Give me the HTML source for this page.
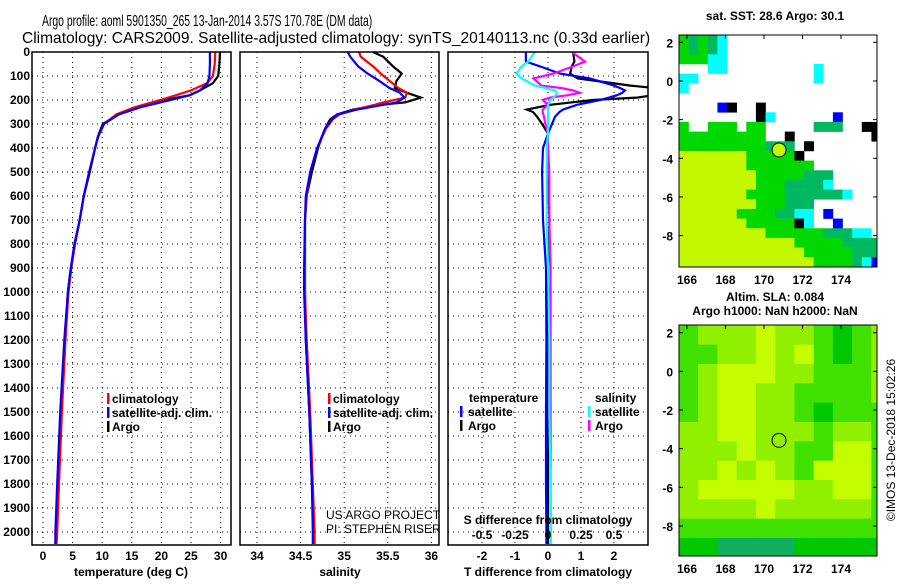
<!DOCTYPE html>
<html><head><meta charset="utf-8"><style>
html,body{margin:0;padding:0;background:#fff;}
svg text{font-family:"Liberation Sans",sans-serif;}
.t{font-size:12px;font-weight:bold;fill:#000;}
</style></head><body>
<svg id="s" width="900" height="580" xmlns="http://www.w3.org/2000/svg">
<defs>
<clipPath id="c1"><rect x="32" y="52" width="199" height="493"/></clipPath>
<clipPath id="c2"><rect x="240" y="52" width="199" height="493"/></clipPath>
<clipPath id="c3"><rect x="448" y="52" width="200" height="493"/></clipPath>
<clipPath id="m1"><rect x="679" y="35" width="198" height="232"/></clipPath>
<clipPath id="m2"><rect x="679" y="325" width="198" height="231"/></clipPath>
</defs>
<g transform="translate(42,26) scale(0.65,1)"><text x="0" y="0" font-size="16" textLength="508" lengthAdjust="spacingAndGlyphs">Argo profile: aoml 5901350_265 13-Jan-2014 3.57S 170.78E (DM data)</text></g>
<g transform="translate(22,43) scale(0.85,1)"><text x="0" y="0" font-size="16" textLength="739" lengthAdjust="spacingAndGlyphs">Climatology: CARS2009. Satellite-adjusted climatology: synTS_20140113.nc (0.33d earlier)</text></g>
<g id="g"></g>
</svg>
<script>
// ---- data ----
const tDepth=[0,50,100,130,160,180,200,230,260,300,350,400,500,600,700,800,900,1000,1200,1500,1800,2000,2050];
const tArgo=[29.9,29.8,29.6,28.7,26.5,24.8,20.6,16.4,12.7,10.1,9.3,8.8,7.9,6.9,6.2,5.4,4.7,4.2,3.7,3.0,2.5,2.2,2.1];
const tClim=[29.1,29.0,28.7,27.7,25.0,22.5,19.8,15.5,12.4,10.3,9.4,8.8,7.8,6.9,6.2,5.4,4.8,4.3,3.8,3.2,2.7,2.4,2.3];
const tSat=[28.2,28.2,28.1,27.8,26.5,24.8,21.5,16.5,12.8,10.3,9.3,8.8,7.8,6.9,6.2,5.3,4.7,4.2,3.6,2.9,2.4,2.1,2.1];
const sDepth=[0,20,60,90,120,150,170,190,210,220,240,260,280,320,400,500,600,700,900,1000,1200,1500,1800,2000,2050];
const sArgo=[35.33,35.45,35.56,35.66,35.60,35.58,35.72,35.88,35.70,35.41,35.10,34.92,34.84,34.78,34.70,34.63,34.57,34.55,34.55,34.55,34.56,34.60,34.63,34.65,34.65];
const sClim=[35.17,35.19,35.33,35.42,35.52,35.62,35.72,35.70,35.45,35.35,35.12,34.95,34.87,34.79,34.69,34.61,34.57,34.55,34.55,34.55,34.57,34.61,34.64,34.66,34.66];
const sSat=[35.04,35.07,35.16,35.27,35.40,35.52,35.64,35.69,35.60,35.45,35.15,34.92,34.86,34.78,34.69,34.61,34.56,34.55,34.54,34.54,34.56,34.60,34.63,34.64,34.64];
const dDepth=[0,40,60,90,110,140,150,160,170,180,190,200,220,240,250,270,300,340,400,500,700,900,1200,1500,1800,2000,2050];
const dTSat=[-0.67,-0.67,-0.24,0.36,1.27,2.0,2.18,2.33,2.25,2.09,1.85,1.58,0.88,0.45,0.35,0.21,0.12,0.0,-0.15,-0.18,-0.15,-0.06,-0.05,-0.06,-0.06,-0.05,-0.05];
const dTArgo=[0.76,0.8,0.72,0.67,0.9,2.5,3.2,3.5,3.5,3.2,2.7,1.36,0.06,-0.64,-0.45,-0.33,-0.18,0,-0.02,-0.03,0.05,0.0,0.0,0.0,0.0,0.0,0.0];
const dSArgo=[0.18,0.28,0.19,0.04,-0.11,-0.05,0.10,0.19,0.24,0.15,0.015,-0.04,0.0,-0.04,-0.04,-0.03,-0.02,0.0,0.0,0.01,0.01,0.02,0.02,0.02,0.02,0.02,0.02];
const dSSat=[-0.1,-0.15,-0.2,-0.24,-0.2,-0.1,-0.02,0.05,0.07,0.06,0.04,0.02,0.0,0.0,0.0,0.0,0.0,0.0,-0.01,-0.01,-0.01,0.0,0.01,0.01,0.02,0.02,0.02];
const depthTicks=[0,100,200,300,400,500,600,700,800,900,1000,1100,1200,1300,1400,1500,1600,1700,1800,1900,2000];
const tTicks=[0,5,10,15,20,25,30];
const sTicks=[34,34.5,35,35.5,36];
const dTicks=[-2,-1,0,1,2];
const dSTicks=["-0.5","-0.25","0","0.25","0.5"];
const latTicks=[2,0,-2,-4,-6,-8];
const lonTicks=[166,168,170,172,174];
const sstGrid=[
"gdgdc................","gdgdc................","gggcc................","...cc.........c......",
"cc............c......","c....................",".....................","....bk..k............",
"........kc......b....","g..ggg.gg.....ddd..kk","ggggggggg..k........k","gggggggggddd.k.......",
"yyyyyyygggggk........","yyyyyyyggggggg.......","yyyyyyyygggggddd.....","yyyyyyyygggddddc.....",
"yyyyyyyggggddddddc...","yyyyyyyygggddd.......","yyyyyyggggddcc.b.....","yyyyyyygggggkc..b....",
"yyyyyyyyyggggggdddcc.","yyyyyyyyyyyygggggdddd","yyyyyyyyyyyyygggggddd","yyyyyyyyyyyyyyggggdcb"];
const slaGrid=["12223221012","11223231012","12333221112","12332211112","12332210111","22332221221",
"22232211331","22323213331","23333322331","22223222221","11111111111","00444400000"];
const argoLon=170.78, argoLat=-3.57;
// ---- scales ----
const NS="http://www.w3.org/2000/svg";
const G=document.getElementById('g');
function el(tag,attrs,parent){const e=document.createElementNS(NS,tag);for(const k in attrs)e.setAttribute(k,attrs[k]);(parent||G).appendChild(e);return e;}
const Y=d=>52+d*0.24;
const X1=v=>43+v*5.92;
const X2=v=>257+(v-34)*87.2;
const X3=v=>548+v*33;
const X3s=v=>548+v*132;
const LX=lon=>687+(lon-166)*19.25;
const LY1=lat=>42.3+(2-lat)*19.33;
const LY2=lat=>332.7+(2-lat)*19.33;
const panels=[[32,231],[240,439],[448,648]];
panels.forEach((p,i)=>{
  depthTicks.forEach(d=>{
    const l=el('line',{x1:p[0],x2:p[1],y1:Y(d),y2:Y(d),stroke:'#000','stroke-width':1,'stroke-dasharray':'1,4'});
    
    
  });
});
function vgrid(ticks,X,pi,labels){
  ticks.forEach((v,k)=>{
    const l=el('line',{x1:X(v),x2:X(v),y1:52,y2:545,stroke:'#000','stroke-width':1,'stroke-dasharray':'1,4'});
    
    
    const t=el('text',{x:X(v),y:560,'text-anchor':'middle',class:'t'});t.textContent=labels?labels[k]:v;
    
    
  });
}
vgrid(tTicks,X1,0);vgrid(sTicks,X2,1);vgrid(dTicks,X3,2);
depthTicks.forEach(d=>{const t=el('text',{x:30,y:Y(d)+4,'text-anchor':'end',class:'t'});t.textContent=d;
  
  });
function line(xs,ds,X,color,clip,name){
  const pts=xs.map((v,i)=>X(v).toFixed(1)+','+Y(ds[i]).toFixed(1)).join(' ');
  const p=el('polyline',{points:pts,fill:'none',stroke:color,'stroke-width':2.2,'clip-path':'url(#'+clip+')'});
  
  
}
line(tArgo,tDepth,X1,'#000','c1','argo-temperature-line');
line(tClim,tDepth,X1,'#f00','c1','climatology-temperature-line');
line(tSat,tDepth,X1,'#00f','c1','satellite-temperature-line');
line(sArgo,sDepth,X2,'#000','c2','argo-salinity-line');
line(sClim,sDepth,X2,'#f00','c2','climatology-salinity-line');
line(sSat,sDepth,X2,'#00f','c2','satellite-salinity-line');
line(dTArgo,dDepth,X3,'#000','c3','argo-temp-diff-line');
line(dTSat,dDepth,X3,'#00f','c3','satellite-temp-diff-line');
line(dSArgo,dDepth,X3s,'#f0f','c3','argo-sal-diff-line');
line(dSSat,dDepth,X3s,'#0ff','c3','satellite-sal-diff-line');
panels.forEach(p=>{const r=el('rect',{x:p[0],y:52,width:p[1]-p[0],height:493,fill:'none',stroke:'#000','stroke-width':1.5});
  
  });
function txt(x,y,s,name,extra){const t=el('text',Object.assign({x:x,y:y,class:'t'},extra||{}));t.textContent=s;
  
  return t;}
function bar(x,y,c,name){const r=el('rect',{x:x,y:y-10,width:2.5,height:11,fill:c});
  
  }
[107,328].forEach(x=>{
  bar(x,403,'#f00','legend-climatology-swatch');txt(x+5,403,'climatology','legend-climatology');
  bar(x,417,'#00f','legend-satellite-swatch');txt(x+5,417,'satellite-adj. clim.','legend-satellite');
  bar(x,431,'#000','legend-argo-swatch');txt(x+5,431,'Argo','legend-argo');
});
txt(469,402,'temperature','legend-temperature-header');
txt(595,402,'salinity','legend-salinity-header');
bar(460,416,'#00f','legend-temp-satellite-swatch');txt(468,416,'satellite','legend-temp-satellite');
bar(460,430,'#000','legend-temp-argo-swatch');txt(468,430,'Argo','legend-temp-argo');
bar(588,416,'#0ff','legend-sal-satellite-swatch');txt(595,416,'satellite','legend-sal-satellite');
bar(588,430,'#f0f','legend-sal-argo-swatch');txt(595,430,'Argo','legend-sal-argo');
txt(326,519,'US ARGO PROJECT','project-credit',{style:'font-weight:normal'});
txt(326,533,'PI: STEPHEN RISER','pi-credit',{style:'font-weight:normal'});
txt(548,524,'S difference from climatology','s-diff-axis-title',{'text-anchor':'middle'});
dSTicks.forEach(s=>txt(X3s(parseFloat(s)),539,s,'s-diff-tick-label',{'text-anchor':'middle'}));
txt(131,576,'temperature (deg C)','temperature-axis-title',{'text-anchor':'middle'});
txt(340,576,'salinity','salinity-axis-title',{'text-anchor':'middle'});
txt(548,576,'T difference from climatology','t-diff-axis-title',{'text-anchor':'middle'});
// ---- maps ----
const sstCol={g:'#00d800',d:'#00b860',y:'#c4f800',c:'#00ffff',b:'#0000ff',k:'#000000'};
const m1=el('g',{'clip-path':'url(#m1)'});


const lon0=165.58, lat0=2.38;
sstGrid.forEach((row,r)=>{for(let c=0;c<row.length;c++){const ch=row[c];if(ch==='.')continue;
  const x=LX(lon0+c*0.5),y=LY1(lat0-r*0.5);
  const e=el('rect',{x:x,y:y,width:LX(lon0+c*0.5+0.5)-x+0.3,height:LY1(lat0-r*0.5-0.5)-y+0.3,fill:sstCol[ch]},m1);
  
  }});
const slaCol=['#00c800','#40e000','#90f000','#c4fc00','#10b060'];
const m2=el('g',{'clip-path':'url(#m2)'});


slaGrid.forEach((row,r)=>{for(let c=0;c<row.length;c++){
  const x=LX(lon0+c),y=LY2(lat0-r);
  const e=el('rect',{x:x,y:y,width:LX(lon0+c+1)-x+0.3,height:LY2(lat0-r-1)-y+0.3,fill:slaCol[+row[c]]},m2);
  
  }});
[[LY1,35,267,'#c4f800'],[LY2,325,556,'none']].forEach((m,i)=>{
  const LY=m[0];
  const c=el('circle',{cx:LX(argoLon),cy:LY(argoLat),r:7,fill:m[3],stroke:'#000','stroke-width':1});
  
  
  const f=el('rect',{x:679,y:m[1],width:198,height:m[2]-m[1],fill:'none',stroke:'#000','stroke-width':1});
  
  
  latTicks.forEach(l=>{txt(673,LY(l)+5,l,'lat-tick-label',{'text-anchor':'end'});
    const tk=el('line',{x1:679,x2:683,y1:LY(l),y2:LY(l),stroke:'#000'});
    
    
    const tk2=el('line',{x1:873,x2:877,y1:LY(l),y2:LY(l),stroke:'#000'});
    
    });
  lonTicks.forEach(l=>{txt(LX(l),m[2]+17,l,'lon-tick-label',{'text-anchor':'middle'});
    const tk=el('line',{x1:LX(l),x2:LX(l),y1:m[1],y2:m[1]+4,stroke:'#000'});
    
    });
});
txt(775,20,'sat. SST: 28.6 Argo: 30.1','sst-map-title',{'text-anchor':'middle'});
txt(775,301,'Altim. SLA: 0.084','sla-map-title',{'text-anchor':'middle'});
txt(775,315,'Argo h1000: NaN h2000: NaN','sla-map-subtitle',{'text-anchor':'middle'});
const cr=el('text',{x:0,y:0,'font-size':12,transform:'translate(895,440) rotate(-90)','text-anchor':'middle'});
cr.textContent='©IMOS 13-Dec-2018 15:02:26';


</script>
</body></html>
